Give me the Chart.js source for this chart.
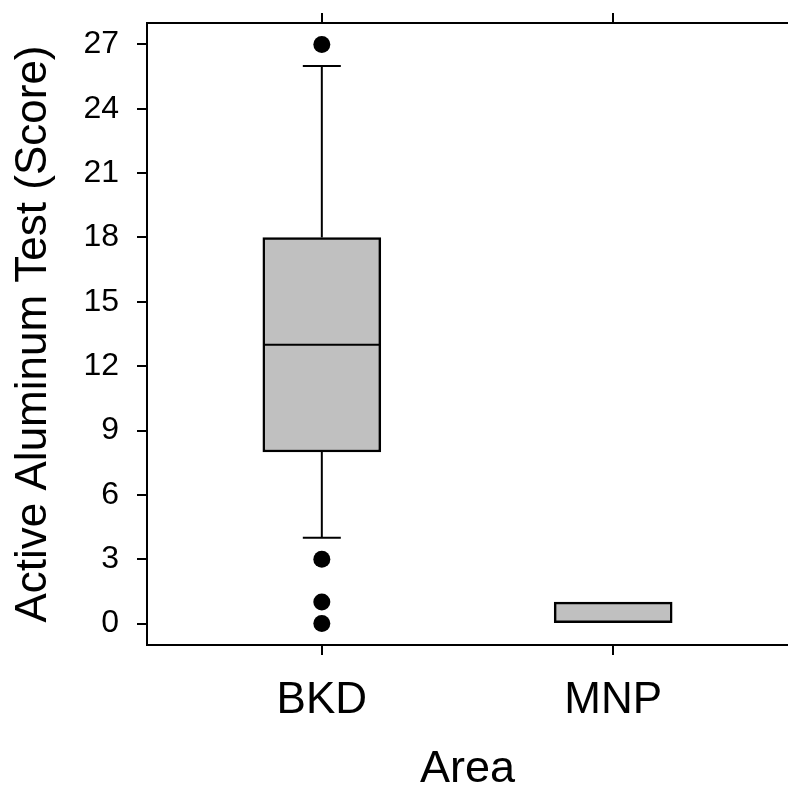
<!DOCTYPE html>
<html>
<head>
<meta charset="utf-8">
<script src="https://cdn.jsdelivr.net/npm/chart.js@4.4.1/dist/chart.umd.min.js"></script>
<style>
  html, body { margin: 0; padding: 0; background: #fff; }
  #wrap { width: 788px; height: 791px; position: relative; }
</style>
</head>
<body>
<div id="wrap"><canvas id="box-chart"></canvas></div>
<script>
  // box plot numbers
  const AREAS = ["BKD", "MNP"];
  const Q1 = [8, 0];
  const MEDIAN = [13, 0];
  const Q3 = [18, 1];
  const WHISKER_LO = [4, 0];
  const WHISKER_HI = [26, 1];
  const OUTLIER_AREA = [0, 0, 0, 0];
  const OUTLIER_VALUE = [27, 3, 1, 0];
  const Y_TICKS = [0, 3, 6, 9, 12, 15, 18, 21, 24, 27];

  (function () {
    "use strict";

    const FONT = "'Liberation Sans', Arial, sans-serif";
    const BOX_WIDTH = 118;
    const CAP_HALF = 19;
    const X_MIN = -0.6;
    const X_MAX = 1.6;

    Chart.defaults.font.family = FONT;
    Chart.defaults.color = "#000";

    function areaTicks(scale) {
      scale.ticks = AREAS.map((_, i) => ({ value: i }));
    }

    // fixed axis sizes, no label overflow padding
    function fixSize(size) {
      return (s) => {
        if (s.isHorizontal()) s.height = size;
        else s.width = size;
        s.paddingTop = 0;
        s.paddingBottom = 0;
        s.paddingLeft = 0;
        s.paddingRight = 0;
      };
    }

    const whiskerPlugin = {
      id: "whiskers",
      afterDatasetsDraw(chart) {
        const { ctx, scales } = chart;
        const xs = scales.x;
        const ys = scales.y;
        const line = (x1, y1, x2, y2) => {
          ctx.beginPath();
          ctx.moveTo(x1, y1);
          ctx.lineTo(x2, y2);
          ctx.stroke();
        };
        ctx.save();
        ctx.strokeStyle = "#000";
        ctx.lineWidth = 2;
        AREAS.forEach((_, i) => {
          const cx = xs.getPixelForValue(i);
          const yHi = ys.getPixelForValue(WHISKER_HI[i]);
          const yLo = ys.getPixelForValue(WHISKER_LO[i]);
          const yQ1 = ys.getPixelForValue(Q1[i]);
          const yQ3 = ys.getPixelForValue(Q3[i]);
          const yMed = ys.getPixelForValue(MEDIAN[i]);
          if (yHi < yQ3) {
            line(cx, yQ3, cx, yHi);
            line(cx - CAP_HALF, yHi, cx + CAP_HALF, yHi);
          }
          if (yLo > yQ1) {
            line(cx, yQ1, cx, yLo);
            line(cx - CAP_HALF, yLo, cx + CAP_HALF, yLo);
          }
          // median hidden when it sits on a box edge
          if (MEDIAN[i] > Q1[i] && MEDIAN[i] < Q3[i]) {
            line(cx - BOX_WIDTH / 2 + 1, yMed, cx + BOX_WIDTH / 2 - 1, yMed);
          }
        });
        ctx.restore();
      },
    };

    const axisGrid = {
      drawOnChartArea: false,
      offset: false,
      tickLength: 10,
      color: "#000",
      lineWidth: 2,
    };
    const axisBorder = { display: true, color: "#000", width: 2 };

    new Chart(document.getElementById("box-chart"), {
      type: "bar",
      data: {
        datasets: [
          {
            type: "bar",
            data: AREAS.map((_, i) => ({ x: i, y: [Q1[i], Q3[i]] })),
            backgroundColor: "#c0c0c0",
            borderColor: "#000",
            borderWidth: 2.5,
            borderSkipped: false,
            barThickness: BOX_WIDTH,
            order: 2,
          },
          {
            type: "scatter",
            data: OUTLIER_VALUE.map((v, k) => ({ x: OUTLIER_AREA[k], y: v })),
            pointRadius: 8.5,
            pointHoverRadius: 8.5,
            backgroundColor: "#000",
            borderWidth: 0,
            order: 1,
          },
        ],
      },
      options: {
        responsive: true,
        maintainAspectRatio: false,
        animation: false,
        layout: { padding: 0, autoPadding: false },
        plugins: {
          legend: { display: false },
          tooltip: { enabled: false },
        },
        scales: {
          x: {
            type: "linear",
            position: "bottom",
            offset: false,
            min: X_MIN,
            max: X_MAX,
            afterBuildTicks: areaTicks,
            afterFit: fixSize(146),
            ticks: {
              callback: (v) => AREAS[v] || "",
              font: { size: 44 },
              color: "#000",
              padding: 19,
              maxRotation: 0,
              autoSkip: false,
            },
            grid: axisGrid,
            border: axisBorder,
            title: {
              display: true,
              text: "Area",
              font: { size: 45 },
              color: "#000",
              padding: { top: 0, bottom: -6 },
            },
          },
          xTop: {
            type: "linear",
            position: "top",
            offset: false,
            min: X_MIN,
            max: X_MAX,
            afterBuildTicks: areaTicks,
            afterFit: fixSize(23),
            ticks: { display: false },
            grid: axisGrid,
            border: axisBorder,
          },
          y: {
            type: "linear",
            min: -1,
            max: 28,
            afterBuildTicks: (s) => { s.ticks = Y_TICKS.map((v) => ({ value: v })); },
            afterFit: fixSize(147),
            ticks: {
              font: { size: 32 },
              color: "#000",
              padding: 18,
            },
            grid: axisGrid,
            border: axisBorder,
            title: {
              display: true,
              text: "Active Aluminum Test (Score)",
              font: { size: 44 },
              color: "#000",
              padding: { top: 7, bottom: 0 },
            },
          },
        },
      },
      plugins: [whiskerPlugin],
    });
  })();
</script>
</body>
</html>
